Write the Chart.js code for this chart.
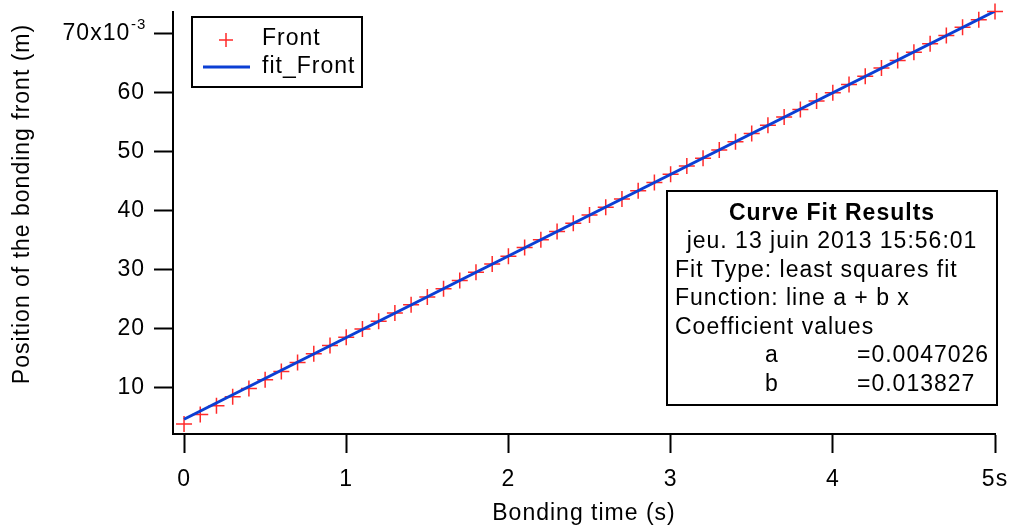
<!DOCTYPE html>
<html>
<head>
<meta charset="utf-8">
<script src="https://cdn.jsdelivr.net/npm/chart.js@4/dist/chart.umd.min.js"></script>
<style>
  body { margin: 0; background: #fff; }
</style>
</head>
<body>
<canvas id="front-chart" width="1011" height="527"></canvas>
<script>
'use strict';

// bonding time (s), one sample every 0.1 s
var times = [0, 0.1, 0.2, 0.3, 0.4, 0.5, 0.6, 0.7, 0.8, 0.9,
             1, 1.1, 1.2, 1.3, 1.4, 1.5, 1.6, 1.7, 1.8, 1.9,
             2, 2.1, 2.2, 2.3, 2.4, 2.5, 2.6, 2.7, 2.8, 2.9,
             3, 3.1, 3.2, 3.3, 3.4, 3.5, 3.6, 3.7, 3.8, 3.9,
             4, 4.1, 4.2, 4.3, 4.4, 4.5, 4.6, 4.7, 4.8, 4.9, 5];

// position of the bonding front (m)
var front = [0.0039, 0.0055, 0.0070, 0.0085, 0.0099, 0.0114, 0.0128, 0.0143, 0.0158, 0.0172,
             0.0186, 0.0200, 0.0213, 0.0227, 0.0241, 0.0254, 0.0268, 0.0282, 0.0296, 0.0310,
             0.0323, 0.0338, 0.0351, 0.0365, 0.0379, 0.0393, 0.0406, 0.0420, 0.0434, 0.0448,
             0.0462, 0.0476, 0.0489, 0.0503, 0.0517, 0.0531, 0.0545, 0.0559, 0.0572, 0.0586,
             0.0600, 0.0614, 0.0628, 0.0642, 0.0655, 0.0669, 0.0683, 0.0697, 0.0711, 0.0724, 0.0738];

// fit_Front end points (a + b x)
var fitTimes = [0, 5];
var fitFront = [0.0047026, 0.0738376];

var xTicks = [0, 1, 2, 3, 4, 5];
var yTicks = [0.01, 0.02, 0.03, 0.04, 0.05, 0.06, 0.07];

var fitLines = [
  'Curve Fit Results',
  'jeu. 13 juin 2013 15:56:01',
  'Fit Type: least squares fit',
  'Function: line a + b x',
  'Coefficient values'
];
var coefNames = ['a', 'b'];
var coefValues = ['=0.0047026', '=0.013827'];

var FONT = 'Liberation Sans, Arial, Helvetica, sans-serif';
var SPACING = '1px';

function pairs(xs, ys) {
  return xs.map(function(x, i) { return { x: x, y: ys[i] }; });
}

var spacingPlugin = {
  id: 'spacing',
  beforeUpdate: function(chart) { chart.ctx.letterSpacing = SPACING; },
  beforeDraw: function(chart) { chart.ctx.letterSpacing = SPACING; }
};

var boxesPlugin = {
  id: 'boxes',
  afterDraw: function(chart) {
    var ctx = chart.ctx;
    var ys = chart.scales.y;
    ctx.save();
    ctx.letterSpacing = SPACING;
    ctx.fillStyle = '#000';

    // y axis title
    ctx.save();
    ctx.translate(23, 204);
    ctx.rotate(-Math.PI / 2);
    ctx.font = '23px ' + FONT;
    ctx.textAlign = 'center';
    ctx.textBaseline = 'middle';
    ctx.fillText('Position of the bonding front (m)', 0, 0);
    ctx.restore();

    // exponent on the top tick label
    var labelRight = ys.right - ys.options.grid.tickLength - ys.options.ticks.padding;
    ctx.font = '15px ' + FONT;
    ctx.textAlign = 'left';
    ctx.textBaseline = 'middle';
    ctx.fillText('-3', labelRight - 14, ys.getPixelForValue(0.07) - 9);

    // legend box
    ctx.lineWidth = 2;
    ctx.strokeStyle = '#000';
    ctx.fillStyle = '#fff';
    ctx.fillRect(192, 17, 170, 70);
    ctx.strokeRect(192, 17, 170, 70);
    ctx.strokeStyle = chart.data.datasets[1].borderColor;
    ctx.lineWidth = 1.5;
    ctx.beginPath();
    ctx.moveTo(219, 40); ctx.lineTo(233, 40);
    ctx.moveTo(226, 33); ctx.lineTo(226, 47);
    ctx.stroke();
    ctx.strokeStyle = chart.data.datasets[0].borderColor;
    ctx.lineWidth = 3;
    ctx.beginPath();
    ctx.moveTo(203, 67); ctx.lineTo(250, 67);
    ctx.stroke();
    ctx.fillStyle = '#000';
    ctx.font = '23px ' + FONT;
    ctx.textAlign = 'left';
    ctx.fillText(chart.data.datasets[1].label, 262, 39);
    ctx.fillText(chart.data.datasets[0].label, 262, 67);

    // curve fit results box
    ctx.lineWidth = 2;
    ctx.strokeStyle = '#000';
    ctx.fillStyle = '#fff';
    ctx.fillRect(667, 191, 330, 214);
    ctx.strokeRect(667, 191, 330, 214);
    ctx.fillStyle = '#000';
    ctx.textAlign = 'center';
    ctx.font = 'bold 23px ' + FONT;
    ctx.fillText(fitLines[0], 832, 214);
    ctx.font = '23px ' + FONT;
    ctx.fillText(fitLines[1], 832, 242);
    ctx.textAlign = 'left';
    for (var i = 2; i < fitLines.length; i++) {
      ctx.fillText(fitLines[i], 675, 242 + (i - 1) * 28.5);
    }
    for (var j = 0; j < coefNames.length; j++) {
      var yy = 356 + j * 28.5;
      ctx.fillText(coefNames[j], 765, yy);
      ctx.fillText(coefValues[j], 857, yy);
    }
    ctx.restore();
  }
};

var chart = new Chart(document.getElementById('front-chart'), {
  type: 'scatter',
  data: {
    datasets: [{
      label: 'fit_Front',
      data: pairs(fitTimes, fitFront),
      showLine: true,
      borderColor: '#0b3fd4',
      borderWidth: 3,
      pointRadius: 0,
      order: 0
    }, {
      label: 'Front',
      data: pairs(times, front),
      showLine: false,
      pointStyle: 'cross',
      pointRadius: 8,
      borderColor: '#ff2a2a',
      backgroundColor: '#ff2a2a',
      pointBorderWidth: 1.5,
      clip: false,
      order: 1
    }]
  },
  options: {
    responsive: false,
    animation: false,
    events: [],
    layout: { padding: { top: 12, right: 16, left: 0, bottom: 0 } },
    plugins: {
      legend: { display: false },
      tooltip: { enabled: false }
    },
    scales: {
      x: {
        type: 'linear',
        min: -0.068,
        max: 5,
        afterBuildTicks: function(scale) {
          scale.ticks = xTicks.map(function(v) { return { value: v }; });
        },
        afterFit: function(scale) {
          scale.height = 93;
          scale.paddingLeft = 0;
          scale.paddingRight = 0;
        },
        ticks: {
          color: '#000',
          font: { family: FONT, size: 23 },
          padding: 13,
          maxRotation: 0,
          callback: function(v) { return v === 5 ? '5s' : String(v); }
        },
        grid: {
          drawOnChartArea: false,
          tickLength: 19,
          tickWidth: 2,
          tickColor: '#000'
        },
        border: { color: '#000', width: 2 },
        title: {
          display: true,
          text: 'Bonding time (s)',
          color: '#000',
          font: { family: FONT, size: 23 },
          padding: { top: 0, bottom: 0 }
        }
      },
      y: {
        type: 'linear',
        min: 0.0022,
        max: 0.0737,
        afterBuildTicks: function(scale) {
          scale.ticks = yTicks.map(function(v) { return { value: v }; });
        },
        afterFit: function(scale) {
          scale.width = 173;
          scale.paddingTop = 0;
          scale.paddingBottom = 0;
        },
        ticks: {
          color: '#000',
          font: { family: FONT, size: 23 },
          padding: 9,
          callback: function(v) {
            var n = Math.round(v * 1000);
            // room left after 70x10 for the -3 exponent
            return n === 70 ? '70x10  ' : String(n);
          }
        },
        grid: {
          drawOnChartArea: false,
          tickLength: 19,
          tickWidth: 2,
          tickColor: '#000'
        },
        border: { color: '#000', width: 2 }
      }
    }
  },
  plugins: [spacingPlugin, boxesPlugin]
});
</script>
</body>
</html>
